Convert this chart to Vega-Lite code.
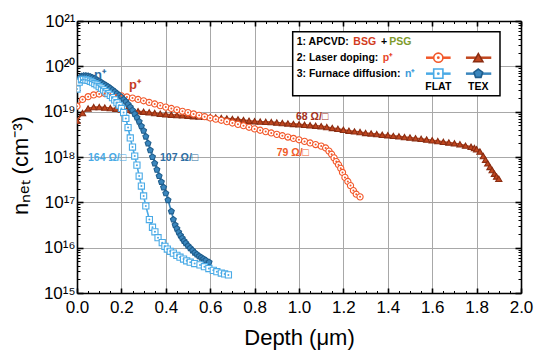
{
  "$schema": "https://vega.github.io/schema/vega-lite/v6.json",
  "width": 444,
  "height": 272,
  "autosize": {"type": "none"},
  "padding": {"left": 77, "top": 21, "right": 32, "bottom": 68},
  "background": "white",
  "config": {
    "view": {"stroke": null},
    "font": "Liberation Sans",
    "text": {"font": "Liberation Sans"}
  },
  "datasets": {
    "profiles": [
      {"depth": 0.0, "n": 6.31e18, "s": "p TEX"},
      {"depth": 0.025, "n": 9.33e18, "s": "p TEX"},
      {"depth": 0.05, "n": 1.175e19, "s": "p TEX"},
      {"depth": 0.075, "n": 1.26e19, "s": "p TEX"},
      {"depth": 0.1, "n": 1.26e19, "s": "p TEX"},
      {"depth": 0.125, "n": 1.23e19, "s": "p TEX"},
      {"depth": 0.15, "n": 1.2e19, "s": "p TEX"},
      {"depth": 0.175, "n": 1.16e19, "s": "p TEX"},
      {"depth": 0.2, "n": 1.12e19, "s": "p TEX"},
      {"depth": 0.225, "n": 1.1e19, "s": "p TEX"},
      {"depth": 0.25, "n": 1.06e19, "s": "p TEX"},
      {"depth": 0.275, "n": 1.02e19, "s": "p TEX"},
      {"depth": 0.3, "n": 1.0e19, "s": "p TEX"},
      {"depth": 0.325, "n": 9.66e18, "s": "p TEX"},
      {"depth": 0.35, "n": 9.33e18, "s": "p TEX"},
      {"depth": 0.375, "n": 9.02e18, "s": "p TEX"},
      {"depth": 0.4, "n": 8.71e18, "s": "p TEX"},
      {"depth": 0.425, "n": 8.55e18, "s": "p TEX"},
      {"depth": 0.45, "n": 8.41e18, "s": "p TEX"},
      {"depth": 0.475, "n": 8.28e18, "s": "p TEX"},
      {"depth": 0.5, "n": 8.13e18, "s": "p TEX"},
      {"depth": 0.525, "n": 7.94e18, "s": "p TEX"},
      {"depth": 0.55, "n": 7.85e18, "s": "p TEX"},
      {"depth": 0.575, "n": 7.73e18, "s": "p TEX"},
      {"depth": 0.6, "n": 7.59e18, "s": "p TEX"},
      {"depth": 0.625, "n": 7.41e18, "s": "p TEX"},
      {"depth": 0.65, "n": 7.24e18, "s": "p TEX"},
      {"depth": 0.675, "n": 7.08e18, "s": "p TEX"},
      {"depth": 0.7, "n": 6.92e18, "s": "p TEX"},
      {"depth": 0.725, "n": 6.76e18, "s": "p TEX"},
      {"depth": 0.75, "n": 6.53e18, "s": "p TEX"},
      {"depth": 0.775, "n": 6.31e18, "s": "p TEX"},
      {"depth": 0.8, "n": 6.17e18, "s": "p TEX"},
      {"depth": 0.825, "n": 6.03e18, "s": "p TEX"},
      {"depth": 0.85, "n": 5.96e18, "s": "p TEX"},
      {"depth": 0.875, "n": 5.89e18, "s": "p TEX"},
      {"depth": 0.9, "n": 5.75e18, "s": "p TEX"},
      {"depth": 0.925, "n": 5.62e18, "s": "p TEX"},
      {"depth": 0.95, "n": 5.5e18, "s": "p TEX"},
      {"depth": 0.975, "n": 5.37e18, "s": "p TEX"},
      {"depth": 1.0, "n": 5.25e18, "s": "p TEX"},
      {"depth": 1.025, "n": 5.13e18, "s": "p TEX"},
      {"depth": 1.05, "n": 5.01e18, "s": "p TEX"},
      {"depth": 1.075, "n": 4.9e18, "s": "p TEX"},
      {"depth": 1.1, "n": 4.79e18, "s": "p TEX"},
      {"depth": 1.125, "n": 4.57e18, "s": "p TEX"},
      {"depth": 1.15, "n": 4.37e18, "s": "p TEX"},
      {"depth": 1.175, "n": 4.17e18, "s": "p TEX"},
      {"depth": 1.2, "n": 3.98e18, "s": "p TEX"},
      {"depth": 1.225, "n": 3.8e18, "s": "p TEX"},
      {"depth": 1.25, "n": 3.67e18, "s": "p TEX"},
      {"depth": 1.275, "n": 3.55e18, "s": "p TEX"},
      {"depth": 1.3, "n": 3.39e18, "s": "p TEX"},
      {"depth": 1.325, "n": 3.31e18, "s": "p TEX"},
      {"depth": 1.35, "n": 3.2e18, "s": "p TEX"},
      {"depth": 1.375, "n": 3.09e18, "s": "p TEX"},
      {"depth": 1.4, "n": 3.02e18, "s": "p TEX"},
      {"depth": 1.425, "n": 2.92e18, "s": "p TEX"},
      {"depth": 1.45, "n": 2.85e18, "s": "p TEX"},
      {"depth": 1.475, "n": 2.75e18, "s": "p TEX"},
      {"depth": 1.5, "n": 2.69e18, "s": "p TEX"},
      {"depth": 1.525, "n": 2.6e18, "s": "p TEX"},
      {"depth": 1.55, "n": 2.51e18, "s": "p TEX"},
      {"depth": 1.575, "n": 2.43e18, "s": "p TEX"},
      {"depth": 1.6, "n": 2.34e18, "s": "p TEX"},
      {"depth": 1.625, "n": 2.24e18, "s": "p TEX"},
      {"depth": 1.65, "n": 2.16e18, "s": "p TEX"},
      {"depth": 1.675, "n": 2.09e18, "s": "p TEX"},
      {"depth": 1.7, "n": 2.0e18, "s": "p TEX"},
      {"depth": 1.725, "n": 1.91e18, "s": "p TEX"},
      {"depth": 1.75, "n": 1.78e18, "s": "p TEX"},
      {"depth": 1.775, "n": 1.68e18, "s": "p TEX"},
      {"depth": 1.79, "n": 1.58e18, "s": "p TEX"},
      {"depth": 1.8, "n": 1.48e18, "s": "p TEX"},
      {"depth": 1.815, "n": 1.32e18, "s": "p TEX"},
      {"depth": 1.83, "n": 1.05e18, "s": "p TEX"},
      {"depth": 1.84, "n": 8.71e17, "s": "p TEX"},
      {"depth": 1.85, "n": 7.24e17, "s": "p TEX"},
      {"depth": 1.86, "n": 6.03e17, "s": "p TEX"},
      {"depth": 1.87, "n": 5.13e17, "s": "p TEX"},
      {"depth": 1.88, "n": 4.27e17, "s": "p TEX"},
      {"depth": 1.89, "n": 3.72e17, "s": "p TEX"},
      {"depth": 1.9, "n": 3.31e17, "s": "p TEX"},
      {"depth": 0.0, "n": 1.32e19, "s": "p FLAT"},
      {"depth": 0.025, "n": 1.86e19, "s": "p FLAT"},
      {"depth": 0.05, "n": 2.14e19, "s": "p FLAT"},
      {"depth": 0.075, "n": 2.34e19, "s": "p FLAT"},
      {"depth": 0.1, "n": 2.45e19, "s": "p FLAT"},
      {"depth": 0.125, "n": 2.51e19, "s": "p FLAT"},
      {"depth": 0.15, "n": 2.45e19, "s": "p FLAT"},
      {"depth": 0.175, "n": 2.34e19, "s": "p FLAT"},
      {"depth": 0.2, "n": 2.24e19, "s": "p FLAT"},
      {"depth": 0.225, "n": 2.11e19, "s": "p FLAT"},
      {"depth": 0.25, "n": 2.0e19, "s": "p FLAT"},
      {"depth": 0.275, "n": 1.86e19, "s": "p FLAT"},
      {"depth": 0.3, "n": 1.74e19, "s": "p FLAT"},
      {"depth": 0.325, "n": 1.6e19, "s": "p FLAT"},
      {"depth": 0.35, "n": 1.48e19, "s": "p FLAT"},
      {"depth": 0.375, "n": 1.36e19, "s": "p FLAT"},
      {"depth": 0.4, "n": 1.26e19, "s": "p FLAT"},
      {"depth": 0.425, "n": 1.175e19, "s": "p FLAT"},
      {"depth": 0.45, "n": 1.1e19, "s": "p FLAT"},
      {"depth": 0.475, "n": 1.02e19, "s": "p FLAT"},
      {"depth": 0.5, "n": 9.55e18, "s": "p FLAT"},
      {"depth": 0.525, "n": 8.91e18, "s": "p FLAT"},
      {"depth": 0.55, "n": 8.32e18, "s": "p FLAT"},
      {"depth": 0.575, "n": 7.76e18, "s": "p FLAT"},
      {"depth": 0.6, "n": 7.24e18, "s": "p FLAT"},
      {"depth": 0.625, "n": 6.84e18, "s": "p FLAT"},
      {"depth": 0.65, "n": 6.46e18, "s": "p FLAT"},
      {"depth": 0.675, "n": 6.03e18, "s": "p FLAT"},
      {"depth": 0.7, "n": 5.62e18, "s": "p FLAT"},
      {"depth": 0.725, "n": 5.25e18, "s": "p FLAT"},
      {"depth": 0.75, "n": 4.9e18, "s": "p FLAT"},
      {"depth": 0.775, "n": 4.52e18, "s": "p FLAT"},
      {"depth": 0.8, "n": 4.17e18, "s": "p FLAT"},
      {"depth": 0.825, "n": 3.89e18, "s": "p FLAT"},
      {"depth": 0.85, "n": 3.63e18, "s": "p FLAT"},
      {"depth": 0.875, "n": 3.39e18, "s": "p FLAT"},
      {"depth": 0.9, "n": 3.16e18, "s": "p FLAT"},
      {"depth": 0.925, "n": 2.95e18, "s": "p FLAT"},
      {"depth": 0.95, "n": 2.75e18, "s": "p FLAT"},
      {"depth": 0.975, "n": 2.57e18, "s": "p FLAT"},
      {"depth": 1.0, "n": 2.4e18, "s": "p FLAT"},
      {"depth": 1.025, "n": 2.21e18, "s": "p FLAT"},
      {"depth": 1.05, "n": 2.04e18, "s": "p FLAT"},
      {"depth": 1.075, "n": 1.88e18, "s": "p FLAT"},
      {"depth": 1.1, "n": 1.74e18, "s": "p FLAT"},
      {"depth": 1.12, "n": 1.58e18, "s": "p FLAT"},
      {"depth": 1.135, "n": 1.35e18, "s": "p FLAT"},
      {"depth": 1.147, "n": 1.15e18, "s": "p FLAT"},
      {"depth": 1.158, "n": 9.55e17, "s": "p FLAT"},
      {"depth": 1.168, "n": 7.94e17, "s": "p FLAT"},
      {"depth": 1.178, "n": 6.76e17, "s": "p FLAT"},
      {"depth": 1.188, "n": 5.62e17, "s": "p FLAT"},
      {"depth": 1.196, "n": 4.57e17, "s": "p FLAT"},
      {"depth": 1.207, "n": 3.55e17, "s": "p FLAT"},
      {"depth": 1.22, "n": 2.88e17, "s": "p FLAT"},
      {"depth": 1.232, "n": 2.34e17, "s": "p FLAT"},
      {"depth": 1.245, "n": 1.82e17, "s": "p FLAT"},
      {"depth": 1.258, "n": 1.51e17, "s": "p FLAT"},
      {"depth": 1.275, "n": 1.32e17, "s": "p FLAT"},
      {"depth": 0.0, "n": 3.55e19, "s": "n TEX"},
      {"depth": 0.01, "n": 5.25e19, "s": "n TEX"},
      {"depth": 0.02, "n": 6.03e19, "s": "n TEX"},
      {"depth": 0.03, "n": 6.17e19, "s": "n TEX"},
      {"depth": 0.04, "n": 6.17e19, "s": "n TEX"},
      {"depth": 0.05, "n": 6.1e19, "s": "n TEX"},
      {"depth": 0.06, "n": 5.89e19, "s": "n TEX"},
      {"depth": 0.07, "n": 5.62e19, "s": "n TEX"},
      {"depth": 0.08, "n": 5.37e19, "s": "n TEX"},
      {"depth": 0.09, "n": 5.01e19, "s": "n TEX"},
      {"depth": 0.1, "n": 4.68e19, "s": "n TEX"},
      {"depth": 0.11, "n": 4.37e19, "s": "n TEX"},
      {"depth": 0.12, "n": 4.07e19, "s": "n TEX"},
      {"depth": 0.13, "n": 3.8e19, "s": "n TEX"},
      {"depth": 0.14, "n": 3.55e19, "s": "n TEX"},
      {"depth": 0.15, "n": 3.27e19, "s": "n TEX"},
      {"depth": 0.16, "n": 3.02e19, "s": "n TEX"},
      {"depth": 0.17, "n": 2.75e19, "s": "n TEX"},
      {"depth": 0.18, "n": 2.51e19, "s": "n TEX"},
      {"depth": 0.19, "n": 2.29e19, "s": "n TEX"},
      {"depth": 0.2, "n": 2.09e19, "s": "n TEX"},
      {"depth": 0.21, "n": 1.86e19, "s": "n TEX"},
      {"depth": 0.22, "n": 1.66e19, "s": "n TEX"},
      {"depth": 0.23, "n": 1.45e19, "s": "n TEX"},
      {"depth": 0.24, "n": 1.26e19, "s": "n TEX"},
      {"depth": 0.25, "n": 1.07e19, "s": "n TEX"},
      {"depth": 0.26, "n": 8.91e18, "s": "n TEX"},
      {"depth": 0.27, "n": 7.41e18, "s": "n TEX"},
      {"depth": 0.28, "n": 6.03e18, "s": "n TEX"},
      {"depth": 0.29, "n": 4.79e18, "s": "n TEX"},
      {"depth": 0.3, "n": 3.8e18, "s": "n TEX"},
      {"depth": 0.31, "n": 2.82e18, "s": "n TEX"},
      {"depth": 0.32, "n": 2.0e18, "s": "n TEX"},
      {"depth": 0.33, "n": 1.41e18, "s": "n TEX"},
      {"depth": 0.34, "n": 1.0e18, "s": "n TEX"},
      {"depth": 0.35, "n": 7.24e17, "s": "n TEX"},
      {"depth": 0.36, "n": 5.25e17, "s": "n TEX"},
      {"depth": 0.37, "n": 3.8e17, "s": "n TEX"},
      {"depth": 0.38, "n": 2.82e17, "s": "n TEX"},
      {"depth": 0.39, "n": 2.14e17, "s": "n TEX"},
      {"depth": 0.4, "n": 1.58e17, "s": "n TEX"},
      {"depth": 0.41, "n": 1.12e17, "s": "n TEX"},
      {"depth": 0.425, "n": 6.31e16, "s": "n TEX"},
      {"depth": 0.434, "n": 4.17e16, "s": "n TEX"},
      {"depth": 0.442, "n": 3.16e16, "s": "n TEX"},
      {"depth": 0.45, "n": 2.63e16, "s": "n TEX"},
      {"depth": 0.458, "n": 2.19e16, "s": "n TEX"},
      {"depth": 0.466, "n": 1.86e16, "s": "n TEX"},
      {"depth": 0.474, "n": 1.62e16, "s": "n TEX"},
      {"depth": 0.482, "n": 1.41e16, "s": "n TEX"},
      {"depth": 0.49, "n": 1.26e16, "s": "n TEX"},
      {"depth": 0.5, "n": 1.1e16, "s": "n TEX"},
      {"depth": 0.51, "n": 9.77e15, "s": "n TEX"},
      {"depth": 0.52, "n": 8.71e15, "s": "n TEX"},
      {"depth": 0.53, "n": 7.76e15, "s": "n TEX"},
      {"depth": 0.54, "n": 7.08e15, "s": "n TEX"},
      {"depth": 0.55, "n": 6.46e15, "s": "n TEX"},
      {"depth": 0.56, "n": 6.03e15, "s": "n TEX"},
      {"depth": 0.57, "n": 5.62e15, "s": "n TEX"},
      {"depth": 0.58, "n": 5.25e15, "s": "n TEX"},
      {"depth": 0.595, "n": 4.79e15, "s": "n TEX"},
      {"depth": 0.0, "n": 3.16e19, "s": "n FLAT"},
      {"depth": 0.01, "n": 4.47e19, "s": "n FLAT"},
      {"depth": 0.02, "n": 5.01e19, "s": "n FLAT"},
      {"depth": 0.03, "n": 5.13e19, "s": "n FLAT"},
      {"depth": 0.04, "n": 5.01e19, "s": "n FLAT"},
      {"depth": 0.05, "n": 4.9e19, "s": "n FLAT"},
      {"depth": 0.06, "n": 4.68e19, "s": "n FLAT"},
      {"depth": 0.07, "n": 4.47e19, "s": "n FLAT"},
      {"depth": 0.08, "n": 4.17e19, "s": "n FLAT"},
      {"depth": 0.09, "n": 3.89e19, "s": "n FLAT"},
      {"depth": 0.1, "n": 3.55e19, "s": "n FLAT"},
      {"depth": 0.11, "n": 3.31e19, "s": "n FLAT"},
      {"depth": 0.12, "n": 3.02e19, "s": "n FLAT"},
      {"depth": 0.13, "n": 2.75e19, "s": "n FLAT"},
      {"depth": 0.14, "n": 2.51e19, "s": "n FLAT"},
      {"depth": 0.15, "n": 2.29e19, "s": "n FLAT"},
      {"depth": 0.16, "n": 2.04e19, "s": "n FLAT"},
      {"depth": 0.17, "n": 1.82e19, "s": "n FLAT"},
      {"depth": 0.18, "n": 1.58e19, "s": "n FLAT"},
      {"depth": 0.19, "n": 1.38e19, "s": "n FLAT"},
      {"depth": 0.2, "n": 1.175e19, "s": "n FLAT"},
      {"depth": 0.21, "n": 9.55e18, "s": "n FLAT"},
      {"depth": 0.22, "n": 7.08e18, "s": "n FLAT"},
      {"depth": 0.23, "n": 4.47e18, "s": "n FLAT"},
      {"depth": 0.24, "n": 2.63e18, "s": "n FLAT"},
      {"depth": 0.25, "n": 1.66e18, "s": "n FLAT"},
      {"depth": 0.26, "n": 1.05e18, "s": "n FLAT"},
      {"depth": 0.27, "n": 6.61e17, "s": "n FLAT"},
      {"depth": 0.28, "n": 3.8e17, "s": "n FLAT"},
      {"depth": 0.29, "n": 2.29e17, "s": "n FLAT"},
      {"depth": 0.3, "n": 1.38e17, "s": "n FLAT"},
      {"depth": 0.31, "n": 8.32e16, "s": "n FLAT"},
      {"depth": 0.326, "n": 4.17e16, "s": "n FLAT"},
      {"depth": 0.34, "n": 2.82e16, "s": "n FLAT"},
      {"depth": 0.351, "n": 2.24e16, "s": "n FLAT"},
      {"depth": 0.365, "n": 1.66e16, "s": "n FLAT"},
      {"depth": 0.384, "n": 1.29e16, "s": "n FLAT"},
      {"depth": 0.396, "n": 1.07e16, "s": "n FLAT"},
      {"depth": 0.407, "n": 9.33e15, "s": "n FLAT"},
      {"depth": 0.42, "n": 8.32e15, "s": "n FLAT"},
      {"depth": 0.434, "n": 7.59e15, "s": "n FLAT"},
      {"depth": 0.45, "n": 6.76e15, "s": "n FLAT"},
      {"depth": 0.464, "n": 6.17e15, "s": "n FLAT"},
      {"depth": 0.48, "n": 5.62e15, "s": "n FLAT"},
      {"depth": 0.494, "n": 5.13e15, "s": "n FLAT"},
      {"depth": 0.51, "n": 4.79e15, "s": "n FLAT"},
      {"depth": 0.53, "n": 4.47e15, "s": "n FLAT"},
      {"depth": 0.554, "n": 4.17e15, "s": "n FLAT"},
      {"depth": 0.574, "n": 3.8e15, "s": "n FLAT"},
      {"depth": 0.594, "n": 3.47e15, "s": "n FLAT"},
      {"depth": 0.614, "n": 3.16e15, "s": "n FLAT"},
      {"depth": 0.63, "n": 2.95e15, "s": "n FLAT"},
      {"depth": 0.65, "n": 2.75e15, "s": "n FLAT"},
      {"depth": 0.665, "n": 2.63e15, "s": "n FLAT"},
      {"depth": 0.682, "n": 2.51e15, "s": "n FLAT"}
    ],
    "legendKeys": [
      {"s": "p FLAT", "x0": 1.572, "x1": 1.683, "xm": 1.6275, "n": 1.55e20},
      {"s": "p TEX", "x0": 1.752, "x1": 1.866, "xm": 1.8077, "n": 1.55e20},
      {"s": "n FLAT", "x0": 1.572, "x1": 1.683, "xm": 1.6275, "n": 6.9e19},
      {"s": "n TEX", "x0": 1.752, "x1": 1.866, "xm": 1.8077, "n": 6.9e19}
    ],
    "legendText": [
      {"label": "1: APCVD:", "depth": 0.9896, "n": 3.39e20, "kind": "text"},
      {"label": "BSG", "depth": 1.2446, "n": 3.39e20, "kind": "BSG"},
      {"label": "+", "depth": 1.369, "n": 3.39e20, "kind": "text"},
      {"label": "PSG", "depth": 1.407, "n": 3.39e20, "kind": "PSG"},
      {"label": "2: Laser doping:", "depth": 0.9896, "n": 1.55e20, "kind": "text"},
      {"label": "p⁺", "depth": 1.377, "n": 1.55e20, "kind": "pplus"},
      {"label": "3: Furnace diffusion:", "depth": 0.9896, "n": 6.8e19, "kind": "text"},
      {"label": "n⁺", "depth": 1.4775, "n": 6.8e19, "kind": "nplus"}
    ],
    "legendHeads": [
      {"label": "FLAT", "depth": 1.6275, "n": 3.56e19, "kind": "text"},
      {"label": "TEX", "depth": 1.8077, "n": 3.56e19, "kind": "text"}
    ],
    "curveNames": [
      {"label": "n⁺", "depth": 0.1036, "n": 6.6e19, "kind": "ann_n"},
      {"label": "p⁺", "depth": 0.261, "n": 3.87e19, "kind": "ann_p"}
    ],
    "sheetRes": [
      {"label": "68 Ω/□", "depth": 0.9865, "n": 7.74e18, "kind": "R68"},
      {"label": "79 Ω/□", "depth": 0.8995, "n": 1.24e18, "kind": "R79"},
      {"label": "164 Ω/□", "depth": 0.0495, "n": 9.5e17, "kind": "R164"},
      {"label": "107 Ω/□", "depth": 0.374, "n": 9.5e17, "kind": "R107"}
    ]
  },
  "layer": [
    {
      "data": {"name": "profiles"},
      "mark": {"type": "line", "strokeWidth": 1.6, "clip": true},
      "encoding": {
        "x": {
          "field": "depth", "type": "quantitative",
          "scale": {"domain": [0, 2], "nice": false, "zero": false},
          "axis": {
            "orient": "bottom",
            "values": [0,0.05,0.1,0.15,0.2,0.25,0.3,0.35,0.4,0.45,0.5,0.55,0.6,0.65,0.7,0.75,0.8,0.85,0.9,0.95,1,1.05,1.1,1.15,1.2,1.25,1.3,1.35,1.4,1.45,1.5,1.55,1.6,1.65,1.7,1.75,1.8,1.85,1.9,1.95,2],
            "labelExpr": "abs(datum.value*5 - round(datum.value*5)) < 0.001 ? format(datum.value, '.1f') : ''",
            "tickSize": {"condition": {"test": "abs(datum.value*5 - round(datum.value*5)) < 0.001", "value": -5}, "value": -2.5},
            "tickWidth": {"condition": {"test": "abs(datum.value*5 - round(datum.value*5)) < 0.001", "value": 1.6}, "value": 1},
            "grid": true,
            "gridColor": "#a8a8a8",
            "gridWidth": 1,
            "gridOpacity": {"condition": {"test": "abs(datum.value*5 - round(datum.value*5)) < 0.001", "value": 1}, "value": 0},
            "tickColor": "black",
            "domainColor": "black",
            "domainWidth": 1.6,
            "labelFont": "Liberation Sans",
            "labelFontSize": 17,
            "labelColor": "black",
            "labelPadding": 11,
            "labelFlush": false,
            "labelOverlap": false,
            "labelBound": false,
            "title": "Depth (μm)",
            "titleFont": "Liberation Sans",
            "titleFontSize": 22,
            "titleFontWeight": "normal",
            "titleColor": "black",
            "titleX": 222,
            "titleY": 44,
            "titleAlign": "center",
            "titleBaseline": "middle"
          }
        },
        "y": {
          "field": "n", "type": "quantitative",
          "scale": {"type": "log", "domain": [1e15, 1e21], "nice": false},
          "axis": {
            "orient": "left",
            "values": [1e15,2e15,3e15,4e15,5e15,6e15,7e15,8e15,9e15,1e16,2e16,3e16,4e16,5e16,6e16,7e16,8e16,9e16,1e17,2e17,3e17,4e17,5e17,6e17,7e17,8e17,9e17,1e18,2e18,3e18,4e18,5e18,6e18,7e18,8e18,9e18,1e19,2e19,3e19,4e19,5e19,6e19,7e19,8e19,9e19,1e20,2e20,3e20,4e20,5e20,6e20,7e20,8e20,9e20,1e21],
            "labelExpr": "abs(log(datum.value)/LN10 - round(log(datum.value)/LN10)) < 0.01 ? ['10¹⁵','10¹⁶','10¹⁷','10¹⁸','10¹⁹','10²⁰','10²¹'][round(log(datum.value)/LN10) - 15] : ''",
            "tickSize": {"condition": {"test": "abs(log(datum.value)/LN10 - round(log(datum.value)/LN10)) < 0.01", "value": -6}, "value": -3},
            "tickWidth": {"condition": {"test": "abs(log(datum.value)/LN10 - round(log(datum.value)/LN10)) < 0.01", "value": 1.6}, "value": 1},
            "grid": true,
            "gridColor": "#a8a8a8",
            "gridWidth": 1,
            "gridOpacity": {"condition": {"test": "abs(log(datum.value)/LN10 - round(log(datum.value)/LN10)) < 0.01", "value": 1}, "value": 0},
            "tickColor": "black",
            "domainColor": "black",
            "domainWidth": 1.6,
            "labelFont": "Liberation Sans",
            "labelFontSize": 17,
            "labelColor": "black",
            "labelPadding": 8,
            "labelFlush": false,
            "labelOverlap": false,
            "labelBound": false,
            "title": "nₙₑₜ (cm⁻³)",
            "titleFont": "Liberation Sans",
            "titleFontSize": 22,
            "titleFontWeight": "normal",
            "titleColor": "black",
            "titleAngle": 270,
            "titleX": -57,
            "titleY": 144,
            "titleAlign": "center",
            "titleBaseline": "middle"
          }
        },
        "color": {
          "field": "s", "type": "nominal", "legend": null,
          "scale": {
            "domain": ["p TEX","p FLAT","n TEX","n FLAT","text","BSG","PSG","pplus","nplus","ann_n","ann_p","R68","R79","R164","R107"],
            "range": ["#c0461f","#f2582a","#3a86bd","#4aaae6","#000000","#d23c1e","#7e9b2c","#e8452a","#3a9ad9","#2d6ea3","#c63a24","#a3311b","#f05a28","#4aaae6","#2d6ea3"]
          }
        }
      }
    },
    {
      "data": {"name": "profiles"},
      "mark": {"type": "point", "opacity": 0},
      "encoding": {
        "x": {
          "field": "depth", "type": "quantitative",
          "axis": {
            "orient": "top",
            "values": [0,0.05,0.1,0.15,0.2,0.25,0.3,0.35,0.4,0.45,0.5,0.55,0.6,0.65,0.7,0.75,0.8,0.85,0.9,0.95,1,1.05,1.1,1.15,1.2,1.25,1.3,1.35,1.4,1.45,1.5,1.55,1.6,1.65,1.7,1.75,1.8,1.85,1.9,1.95,2],
            "labels": false,
            "grid": false,
            "tickSize": {"condition": {"test": "abs(datum.value*5 - round(datum.value*5)) < 0.001", "value": -5}, "value": -2.5},
            "tickWidth": {"condition": {"test": "abs(datum.value*5 - round(datum.value*5)) < 0.001", "value": 1.6}, "value": 1},
            "tickColor": "black",
            "domainColor": "black",
            "domainWidth": 1.6,
            "title": null
          }
        },
        "y": {
          "field": "n", "type": "quantitative",
          "axis": {
            "orient": "right",
            "values": [1e15,2e15,3e15,4e15,5e15,6e15,7e15,8e15,9e15,1e16,2e16,3e16,4e16,5e16,6e16,7e16,8e16,9e16,1e17,2e17,3e17,4e17,5e17,6e17,7e17,8e17,9e17,1e18,2e18,3e18,4e18,5e18,6e18,7e18,8e18,9e18,1e19,2e19,3e19,4e19,5e19,6e19,7e19,8e19,9e19,1e20,2e20,3e20,4e20,5e20,6e20,7e20,8e20,9e20,1e21],
            "labels": false,
            "grid": false,
            "tickSize": {"condition": {"test": "abs(log(datum.value)/LN10 - round(log(datum.value)/LN10)) < 0.01", "value": -6}, "value": -3},
            "tickWidth": {"condition": {"test": "abs(log(datum.value)/LN10 - round(log(datum.value)/LN10)) < 0.01", "value": 1.6}, "value": 1},
            "tickColor": "black",
            "domainColor": "black",
            "domainWidth": 1.6,
            "title": null
          }
        }
      }
    },
    {
      "data": {"name": "profiles"},
      "mark": {"type": "point", "filled": true, "size": 38, "strokeWidth": 1.1, "opacity": 1, "clip": true},
      "encoding": {
        "x": {"field": "depth", "type": "quantitative", "axis": null},
        "y": {"field": "n", "type": "quantitative", "axis": null},
        "shape": {"field": "s", "type": "nominal", "legend": null, "scale": {"domain": ["p TEX","p FLAT","n TEX","n FLAT"], "range": ["triangle-up","circle","M0,-1L0.951,-0.309L0.588,0.809L-0.588,0.809L-0.951,-0.309Z","square"]}},
        "fill": {"field": "s", "type": "nominal", "legend": null, "scale": {"domain": ["p TEX","p FLAT","n TEX","n FLAT"], "range": ["#c0461f","#ffffff","#3a86bd","#ffffff"]}},
        "stroke": {"field": "s", "type": "nominal", "legend": null, "scale": {"domain": ["p TEX","p FLAT","n TEX","n FLAT"], "range": ["#8a2d12","#f2582a","#1f5d8c","#4aaae6"]}}
      }
    },
    {
      "data": {"name": "profiles"},
      "transform": [{"filter": "datum.s == 'p FLAT' || datum.s == 'n FLAT'"}],
      "mark": {"type": "point", "filled": true, "size": 4, "opacity": 1, "clip": true},
      "encoding": {
        "x": {"field": "depth", "type": "quantitative", "axis": null},
        "y": {"field": "n", "type": "quantitative", "axis": null},
        "color": {"field": "s", "type": "nominal", "legend": null,
          "scale": {
            "domain": ["p TEX","p FLAT","n TEX","n FLAT","text","BSG","PSG","pplus","nplus","ann_n","ann_p","R68","R79","R164","R107"],
            "range": ["#c0461f","#f2582a","#3a86bd","#4aaae6","#000000","#d23c1e","#7e9b2c","#e8452a","#3a9ad9","#2d6ea3","#c63a24","#a3311b","#f05a28","#4aaae6","#2d6ea3"]
          }}
      }
    },
    {
      "data": {"values": [{}]},
      "mark": {"type": "rect", "fill": "white", "stroke": "black", "strokeWidth": 1.5},
      "encoding": {
        "x": {"datum": 0.9716, "type": "quantitative", "axis": null},
        "x2": {"datum": 1.9054},
        "y": {"datum": 5.81e20, "type": "quantitative", "axis": null},
        "y2": {"datum": 2.25e19}
      }
    },
    {
      "data": {"name": "legendKeys"},
      "mark": {"type": "rule", "strokeWidth": 2.5},
      "encoding": {
        "x": {"field": "x0", "type": "quantitative", "axis": null},
        "x2": {"field": "x1"},
        "y": {"field": "n", "type": "quantitative", "axis": null},
        "color": {"field": "s", "type": "nominal", "legend": null,
          "scale": {
            "domain": ["p TEX","p FLAT","n TEX","n FLAT","text","BSG","PSG","pplus","nplus","ann_n","ann_p","R68","R79","R164","R107"],
            "range": ["#c0461f","#f2582a","#3a86bd","#4aaae6","#000000","#d23c1e","#7e9b2c","#e8452a","#3a9ad9","#2d6ea3","#c63a24","#a3311b","#f05a28","#4aaae6","#2d6ea3"]
          }}
      }
    },
    {
      "data": {"name": "legendKeys"},
      "mark": {"type": "point", "filled": true, "size": 85, "strokeWidth": 1.6, "opacity": 1},
      "encoding": {
        "x": {"field": "xm", "type": "quantitative", "axis": null},
        "y": {"field": "n", "type": "quantitative", "axis": null},
        "shape": {"field": "s", "type": "nominal", "legend": null, "scale": {"domain": ["p TEX","p FLAT","n TEX","n FLAT"], "range": ["triangle-up","circle","M0,-1L0.951,-0.309L0.588,0.809L-0.588,0.809L-0.951,-0.309Z","square"]}},
        "fill": {"field": "s", "type": "nominal", "legend": null, "scale": {"domain": ["p TEX","p FLAT","n TEX","n FLAT"], "range": ["#c0461f","#ffffff","#3a86bd","#ffffff"]}},
        "stroke": {"field": "s", "type": "nominal", "legend": null, "scale": {"domain": ["p TEX","p FLAT","n TEX","n FLAT"], "range": ["#8a2d12","#f2582a","#1f5d8c","#4aaae6"]}}
      }
    },
    {
      "data": {"name": "legendKeys"},
      "transform": [{"filter": "datum.s == 'p FLAT' || datum.s == 'n FLAT'"}],
      "mark": {"type": "point", "filled": true, "size": 8, "opacity": 1},
      "encoding": {
        "x": {"field": "xm", "type": "quantitative", "axis": null},
        "y": {"field": "n", "type": "quantitative", "axis": null},
        "color": {"field": "s", "type": "nominal", "legend": null,
          "scale": {
            "domain": ["p TEX","p FLAT","n TEX","n FLAT","text","BSG","PSG","pplus","nplus","ann_n","ann_p","R68","R79","R164","R107"],
            "range": ["#c0461f","#f2582a","#3a86bd","#4aaae6","#000000","#d23c1e","#7e9b2c","#e8452a","#3a9ad9","#2d6ea3","#c63a24","#a3311b","#f05a28","#4aaae6","#2d6ea3"]
          }}
      }
    },
    {
      "data": {"name": "legendText"},
      "mark": {"type": "text", "align": "left", "baseline": "middle", "fontSize": 10.5, "fontWeight": "bold", "font": "Liberation Sans"},
      "encoding": {
        "x": {"field": "depth", "type": "quantitative", "axis": null},
        "y": {"field": "n", "type": "quantitative", "axis": null},
        "text": {"field": "label"},
        "color": {"field": "kind", "type": "nominal", "legend": null,
          "scale": {
            "domain": ["p TEX","p FLAT","n TEX","n FLAT","text","BSG","PSG","pplus","nplus","ann_n","ann_p","R68","R79","R164","R107"],
            "range": ["#c0461f","#f2582a","#3a86bd","#4aaae6","#000000","#d23c1e","#7e9b2c","#e8452a","#3a9ad9","#2d6ea3","#c63a24","#a3311b","#f05a28","#4aaae6","#2d6ea3"]
          }}
      }
    },
    {
      "data": {"name": "legendHeads"},
      "mark": {"type": "text", "align": "center", "baseline": "middle", "fontSize": 10.5, "fontWeight": "bold", "font": "Liberation Sans"},
      "encoding": {
        "x": {"field": "depth", "type": "quantitative", "axis": null},
        "y": {"field": "n", "type": "quantitative", "axis": null},
        "text": {"field": "label"},
        "color": {"field": "kind", "type": "nominal", "legend": null,
          "scale": {
            "domain": ["p TEX","p FLAT","n TEX","n FLAT","text","BSG","PSG","pplus","nplus","ann_n","ann_p","R68","R79","R164","R107"],
            "range": ["#c0461f","#f2582a","#3a86bd","#4aaae6","#000000","#d23c1e","#7e9b2c","#e8452a","#3a9ad9","#2d6ea3","#c63a24","#a3311b","#f05a28","#4aaae6","#2d6ea3"]
          }}
      }
    },
    {
      "data": {"name": "curveNames"},
      "mark": {"type": "text", "align": "center", "baseline": "middle", "fontSize": 13, "fontWeight": "bold", "font": "Liberation Sans"},
      "encoding": {
        "x": {"field": "depth", "type": "quantitative", "axis": null},
        "y": {"field": "n", "type": "quantitative", "axis": null},
        "text": {"field": "label"},
        "color": {"field": "kind", "type": "nominal", "legend": null,
          "scale": {
            "domain": ["p TEX","p FLAT","n TEX","n FLAT","text","BSG","PSG","pplus","nplus","ann_n","ann_p","R68","R79","R164","R107"],
            "range": ["#c0461f","#f2582a","#3a86bd","#4aaae6","#000000","#d23c1e","#7e9b2c","#e8452a","#3a9ad9","#2d6ea3","#c63a24","#a3311b","#f05a28","#4aaae6","#2d6ea3"]
          }}
      }
    },
    {
      "data": {"name": "sheetRes"},
      "mark": {"type": "text", "align": "left", "baseline": "middle", "fontSize": 10.5, "fontWeight": "bold", "font": "Liberation Sans"},
      "encoding": {
        "x": {"field": "depth", "type": "quantitative", "axis": null},
        "y": {"field": "n", "type": "quantitative", "axis": null},
        "text": {"field": "label"},
        "color": {"field": "kind", "type": "nominal", "legend": null,
          "scale": {
            "domain": ["p TEX","p FLAT","n TEX","n FLAT","text","BSG","PSG","pplus","nplus","ann_n","ann_p","R68","R79","R164","R107"],
            "range": ["#c0461f","#f2582a","#3a86bd","#4aaae6","#000000","#d23c1e","#7e9b2c","#e8452a","#3a9ad9","#2d6ea3","#c63a24","#a3311b","#f05a28","#4aaae6","#2d6ea3"]
          }}
      }
    }
  ],
  "resolve": {"axis": {"x": "independent", "y": "independent"}}
}
